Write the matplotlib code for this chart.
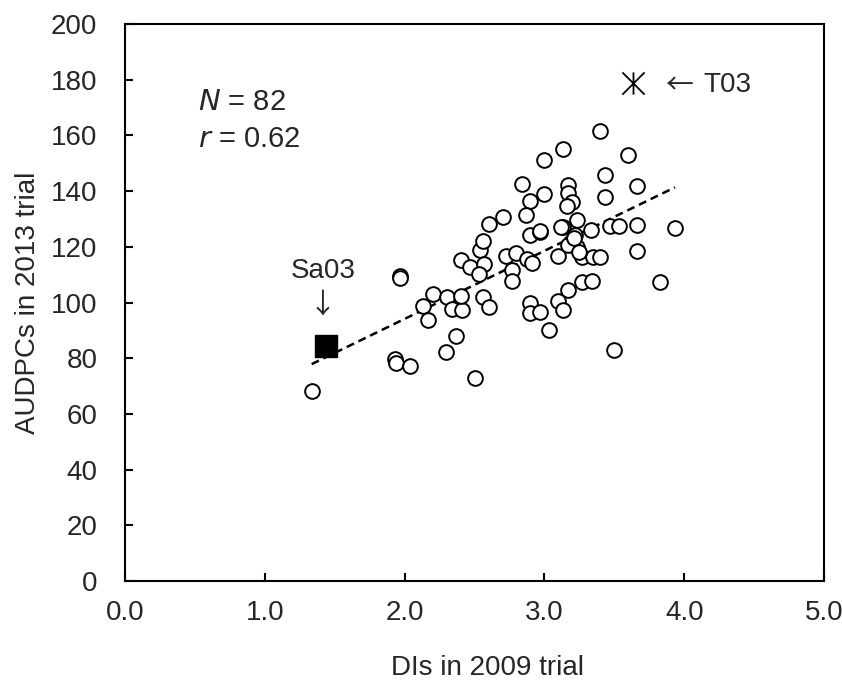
import numpy as np
import matplotlib
matplotlib.use("Agg")
import matplotlib.pyplot as plt
from matplotlib.path import Path

plt.rcParams["font.family"] = ["Liberation Sans", "DejaVu Sans"]

TEXT_COLOR = "#262626"

# cultivars: disease index 2009 vs AUDPC 2013
di_2009 = [
    1.335, 1.97, 1.97, 1.93, 1.94, 2.04, 2.134, 2.17, 2.205, 2.294,
    2.368, 2.30, 2.337, 2.408, 2.40, 2.50, 2.40, 2.54, 2.563, 2.60,
    2.70, 2.468, 2.568, 2.535, 2.558, 2.60, 2.725, 2.80, 2.766, 2.766,
    2.873, 2.909, 2.838, 2.90, 3.00, 2.868, 2.897, 2.97, 2.90, 2.897,
    2.97, 3.035, 3.398, 3.13, 3.00, 3.60, 3.43, 3.665, 3.43, 3.166,
    3.166, 3.20, 3.164, 3.23, 3.135, 3.333, 3.47, 3.536, 3.665, 3.934,
    3.22, 3.19, 3.23, 3.10, 3.267, 3.345, 3.40, 3.665, 3.267, 3.34,
    3.17, 3.83, 3.10, 3.135, 3.498, 2.97, 3.17, 3.21, 3.25, 3.12,
]
audpc_2013 = [
    68.3, 109.5, 108.7, 79.6, 78.4, 77.2, 98.7, 93.7, 103.0, 82.3,
    88.0, 102.0, 97.6, 97.3, 102.3, 72.8, 115.3, 118.9, 122.0, 128.2,
    130.6, 112.6, 113.8, 110.2, 101.9, 98.5, 116.7, 117.9, 111.7, 107.8,
    115.5, 114.1, 142.6, 136.6, 139.0, 131.4, 124.2, 125.4, 99.9, 96.1,
    96.7, 90.1, 161.7, 155.0, 151.2, 153.0, 145.8, 141.8, 137.8, 142.2,
    139.4, 136.2, 134.6, 129.6, 127.2, 126.0, 127.5, 127.5, 127.8, 126.6,
    124.2, 121.8, 120.0, 116.7, 116.5, 116.5, 116.5, 118.6, 107.5, 107.8,
    104.5, 107.5, 100.7, 97.3, 82.9, 125.8, 120.6, 123.0, 118.0, 127.2,
]

# highlighted cultivars
sa03 = (1.44, 84.5)
t03 = (3.63, 178.7)

all_x = np.array(di_2009 + [sa03[0], t03[0]])
all_y = np.array(audpc_2013 + [sa03[1], t03[1]])

# Excel style "star" marker: an X with a vertical stroke
star = Path(
    [(-1, -1), (1, 1), (-1, 1), (1, -1), (0, -1), (0, 1)],
    [Path.MOVETO, Path.LINETO, Path.MOVETO, Path.LINETO, Path.MOVETO, Path.LINETO],
)

fig = plt.figure(figsize=(8.42, 6.82), dpi=100)
ax = fig.add_axes([0.1485, 0.1481, 0.8302, 0.8167])

ax.scatter(di_2009, audpc_2013, s=112, facecolors="white",
           edgecolors="black", linewidths=1.4, zorder=3)
ax.scatter([sa03[0]], [sa03[1]], s=256, marker="s", color="black", zorder=4)
ax.plot([t03[0]], [t03[1]], marker=star, markersize=16,
        markeredgewidth=1.3, color="black", linestyle="none", zorder=4)

# linear trend line over the data range
slope, intercept = np.polyfit(all_x, all_y, 1)
xs = np.array([all_x.min(), all_x.max()])
ax.plot(xs, slope * xs + intercept, color="black", linewidth=1.8,
        dashes=(3.2, 2.0), zorder=2)

ax.set_xlim(0, 5)
ax.set_ylim(0, 200)
ax.set_xticks(np.arange(0, 5.1, 1.0))
ax.set_xticklabels([f"{v:.1f}" for v in np.arange(0, 5.1, 1.0)])
ax.set_yticks(np.arange(0, 201, 20))

for sp in ax.spines.values():
    sp.set_linewidth(1.5)
ax.tick_params(direction="in", length=6, width=1.5, labelsize=20,
               labelcolor=TEXT_COLOR)
ax.tick_params(axis="x", pad=14)
ax.tick_params(axis="y", pad=20)

ax.set_xlabel("DIs in 2009 trial", fontsize=20, color=TEXT_COLOR)
ax.xaxis.set_label_coords(0.519, -0.132)
ax.set_ylabel("AUDPCs in 2013 trial", fontsize=20, color=TEXT_COLOR)
ax.yaxis.set_label_coords(-0.120, 0.5)

ax.text(0.522, 169.1, r"$\it{N}$ = 82", fontsize=21, color=TEXT_COLOR,
        va="baseline")
ax.text(0.522, 155.8, r"$\it{r}$ = 0.62", fontsize=21, color=TEXT_COLOR,
        va="baseline")
ax.text(1.416, 108.8, "Sa03", fontsize=20, color=TEXT_COLOR,
        ha="center", va="baseline")
ax.text(1.414, 99.1, "\u2193", fontsize=20, color=TEXT_COLOR,
        family=["Noto Sans CJK JP", "DejaVu Sans"], ha="center", va="center")
ax.text(3.963, 177.9, "\u2190", fontsize=20, color=TEXT_COLOR,
        family=["Noto Sans CJK JP", "DejaVu Sans"], ha="center", va="center")
ax.text(4.134, 175.6, "T03", fontsize=20, color=TEXT_COLOR,
        va="baseline")

fig.savefig("out.png", dpi=100)
